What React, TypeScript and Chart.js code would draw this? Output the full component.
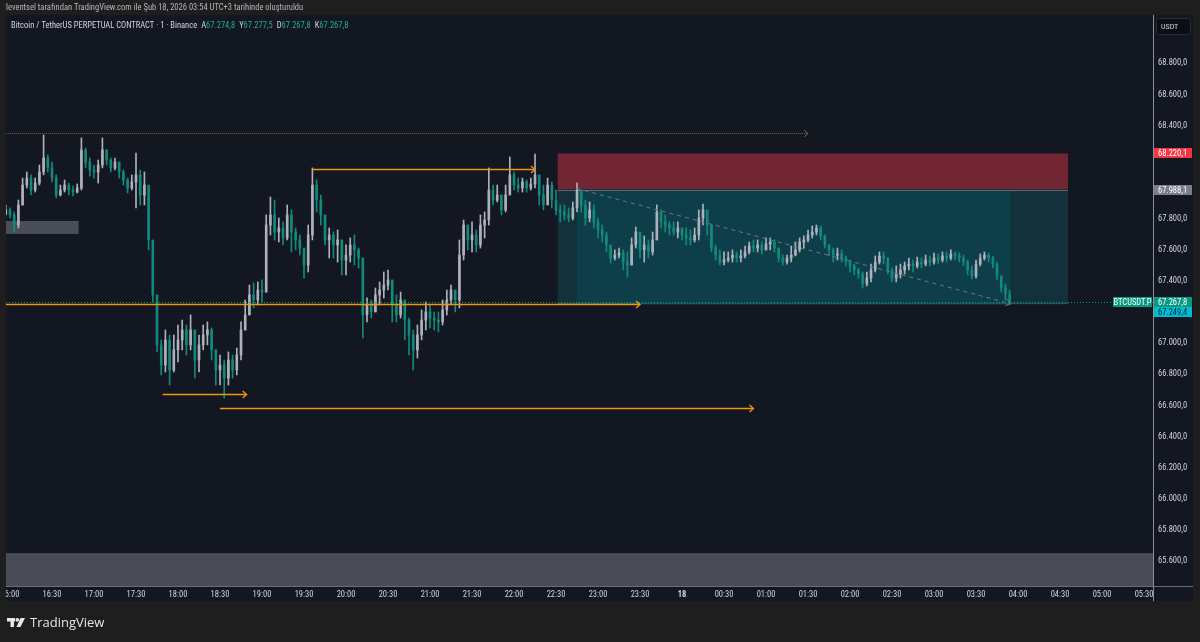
import React, { useEffect, useRef } from 'react';
import { Chart, registerables } from 'chart.js';

Chart.register(...registerables);

// ---------------- data ----------------
const HEADER_TEXT = 'leventsel tarafından TradingView.com ile Şub 18, 2026 03:54 UTC+3 tarihinde oluşturuldu';
const SYMBOL_TITLE = 'Bitcoin / TetherUS PERPETUAL CONTRACT · 1 · Binance';
const ohlcLetters = ['A', 'Y', 'D', 'K'];
const ohlcValues = ['67.274,8', '67.277,5', '67.267,8', '67.267,8'];
const CURRENCY = 'USDT';
const SYMBOL_TAG = 'BTCUSDT.P';

// candles: minutes after 16:00, 3-minute buckets
const firstCandleMinute = -3;
const candleMinutes = 3;
const firstOpen = 67830;

const closes = [
  67857, 67825, 67760, 67889, 68017, 68062, 67985, 68030, 68101, 68191,
  68127, 68062, 67953, 67985, 68017, 67985, 67972, 67998, 68243, 68165,
  68114, 68101, 68146, 68243, 68178, 68127, 68165, 68101, 68050, 67998,
  68037, 68082, 67953, 68017, 67664, 67310, 66989, 66860, 67021, 66828,
  66957, 67021, 67085, 66989, 67085, 66892, 66989, 67053, 67085, 66957,
  66828, 66860, 66776, 66892, 66828, 66924, 67085, 67182, 67310, 67278,
  67342, 67329, 67760, 67825, 67715, 67741, 67677, 67825, 67715, 67664,
  67612, 67503, 67696, 68017, 67921, 67825, 67664, 67696, 67632, 67664,
  67535, 67567, 67632, 67600, 67548, 67182, 67246, 67201, 67310, 67342,
  67374, 67407, 67246, 67182, 67278, 67149, 67053, 66957, 67053, 67149,
  67201, 67162, 67149, 67137, 67214, 67278, 67342, 67278, 67567, 67760,
  67664, 67696, 67632, 67760, 67792, 67985, 67921, 67953, 67857, 67953,
  68082, 68017, 67998, 68037, 67998, 68024, 68082, 67953, 67889, 68017,
  67921, 67857, 67844, 67825, 67805, 67870, 67985, 67889, 67805, 67857,
  67780, 67728, 67696, 67632, 67548, 67567, 67580, 67522, 67503, 67632,
  67715, 67600, 67632, 67587, 67664, 67844, 67780, 67760, 67741, 67715,
  67741, 67696, 67677, 67664, 67696, 67805, 67857, 67760, 67612, 67567,
  67522, 67535, 67548, 67567, 67548, 67561, 67587, 67625, 67612, 67632,
  67600, 67638, 67651, 67612, 67548, 67522, 67548, 67567, 67600, 67651,
  67664, 67696, 67715, 67741, 67690, 67632, 67600, 67567, 67574, 67548,
  67522, 67497, 67471, 67445, 67381, 67419, 67471, 67522, 67561, 67548,
  67471, 67419, 67445, 67471, 67497, 67509, 67497, 67522, 67509, 67535,
  67522, 67548, 67535, 67561, 67548, 67574, 67561, 67548, 67522, 67471,
  67432, 67509, 67548, 67567, 67548, 67509, 67432, 67355, 67317, 67267.8,
];

const highs = [
  67889, 67870, 67844, 67921, 68062, 68101, 68082, 68062, 68146, 68339,
  68210, 68165, 68082, 68017, 68050, 68030, 68011, 68024, 68320, 68255,
  68191, 68146, 68178, 68320, 68243, 68191, 68191, 68165, 68114, 68062,
  68082, 68223, 68114, 68101, 67953, 67632, 67278, 67021, 67085, 67053,
  67053, 67117, 67149, 67117, 67182, 67085, 67053, 67117, 67137, 67098,
  66957, 66924, 66892, 66944, 66924, 66969, 67137, 67278, 67374, 67387,
  67394, 67407, 67825, 67940, 67921, 67805, 67780, 67889, 67857, 67741,
  67696, 67600, 67760, 68127, 68050, 67953, 67760, 67741, 67715, 67728,
  67664, 67632, 67677, 67696, 67612, 67503, 67291, 67278, 67355, 67394,
  67458, 67471, 67374, 67310, 67329, 67278, 67162, 67085, 67117, 67214,
  67265, 67246, 67201, 67201, 67278, 67342, 67374, 67342, 67664, 67792,
  67760, 67780, 67728, 67825, 67844, 68127, 68017, 68017, 67953, 68017,
  68197, 68101, 68062, 68062, 68050, 68062, 68217, 68050, 68017, 68062,
  68037, 67985, 67889, 67889, 67870, 67908, 68030, 67972, 67921, 67908,
  67889, 67805, 67760, 67715, 67612, 67600, 67612, 67600, 67587, 67677,
  67747, 67677, 67690, 67664, 67715, 67889, 67857, 67825, 67780, 67780,
  67780, 67741, 67741, 67728, 67741, 67857, 67895, 67844, 67760, 67632,
  67600, 67587, 67587, 67600, 67587, 67600, 67625, 67651, 67664, 67664,
  67651, 67677, 67677, 67664, 67612, 67567, 67567, 67625, 67651, 67677,
  67690, 67728, 67754, 67760, 67754, 67696, 67632, 67612, 67612, 67600,
  67561, 67535, 67509, 67484, 67458, 67458, 67509, 67561, 67587, 67587,
  67548, 67484, 67497, 67509, 67522, 67548, 67535, 67554, 67548, 67567,
  67561, 67580, 67574, 67587, 67587, 67600, 67587, 67580, 67567, 67535,
  67497, 67535, 67574, 67587, 67580, 67561, 67522, 67432, 67381, 67342,
];

const lows = [
  67825, 67805, 67715, 67741, 67889, 67998, 67953, 67972, 68017, 68082,
  68101, 68037, 67934, 67947, 67972, 67953, 67947, 67966, 67985, 68127,
  68075, 68062, 68030, 68127, 68146, 68101, 68114, 68062, 68017, 67966,
  67985, 67870, 67889, 67889, 67600, 67265, 66944, 66796, 66815, 66731,
  66815, 66879, 66957, 66924, 66957, 66776, 66815, 66957, 66989, 66892,
  66731, 66731, 66648, 66731, 66776, 66796, 66892, 67085, 67182, 67227,
  67246, 67265, 67329, 67696, 67664, 67651, 67632, 67664, 67587, 67600,
  67567, 67419, 67458, 67664, 67844, 67760, 67632, 67548, 67548, 67522,
  67439, 67439, 67522, 67503, 67484, 67034, 67137, 67162, 67201, 67246,
  67291, 67342, 67137, 67137, 67162, 67021, 66924, 66828, 66905, 67021,
  67085, 67098, 67085, 67072, 67117, 67182, 67246, 67201, 67227, 67535,
  67600, 67587, 67587, 67612, 67677, 67760, 67889, 67908, 67825, 67844,
  67985, 67985, 67972, 67972, 67972, 67985, 67998, 67889, 67857, 67934,
  67870, 67825, 67780, 67792, 67780, 67792, 67844, 67844, 67760, 67780,
  67741, 67677, 67651, 67587, 67516, 67535, 67548, 67471, 67426, 67503,
  67612, 67548, 67522, 67548, 67567, 67664, 67741, 67715, 67696, 67696,
  67677, 67664, 67632, 67632, 67651, 67664, 67760, 67696, 67587, 67535,
  67503, 67503, 67522, 67522, 67522, 67522, 67548, 67574, 67587, 67587,
  67574, 67600, 67600, 67587, 67522, 67503, 67509, 67522, 67561, 67587,
  67612, 67651, 67677, 67696, 67664, 67612, 67561, 67522, 67535, 67522,
  67497, 67458, 67439, 67419, 67355, 67368, 67394, 67458, 67509, 67509,
  67445, 67394, 67394, 67419, 67445, 67471, 67458, 67484, 67484, 67497,
  67497, 67509, 67509, 67522, 67522, 67535, 67535, 67522, 67497, 67439,
  67413, 67419, 67497, 67535, 67522, 67484, 67407, 67329, 67278, 67246,
];

// axis ranges (minutes after 16:00 / price)
const timeRange = [-2.857, 816.4];
const priceRange = [65438.6, 69110.6];

const timeTickValues = [0, 30, 60, 90, 120, 150, 180, 210, 240, 270, 300, 330, 360, 390, 420, 450, 480, 510, 540, 570, 600, 630, 660, 690, 720, 750, 780, 810];
const timeTickLabels = ['16:00', '16:30', '17:00', '17:30', '18:00', '18:30', '19:00', '19:30', '20:00', '20:30', '21:00', '21:30', '22:00', '22:30', '23:00', '23:30', '18', '00:30', '01:00', '01:30', '02:00', '02:30', '03:00', '03:30', '04:00', '04:30', '05:00', '05:30'];
const dayTickValue = 480;

const priceTickValues = [65600, 65800, 66000, 66200, 66400, 66600, 66800, 67000, 67400, 67600, 67800, 68400, 68600, 68800];
const priceTickLabels = ['65.600,0', '65.800,0', '66.000,0', '66.200,0', '66.400,0', '66.600,0', '66.800,0', '67.000,0', '67.400,0', '67.600,0', '67.800,0', '68.400,0', '68.600,0', '68.800,0'];

const tagPrices = [68220.1, 67988.1, 67267.8, 67249.4];
const tagTexts = ['68.220,1', '67.988,1', '67.267,8', '67.249,4'];
const tagKinds = ['stop', 'entry', 'last', 'target'];

// drawings (times in minutes after 16:00)
const levelFrom = [-3, 216, -3, 109, 150];
const levelTo = [570, 375, 450, 169, 531];
const levelPrice = [68351, 68120, 67249.4, 66673, 66583];
const levelKind = ['dotted', 'solid', 'solid', 'solid', 'solid'];

const boxFrom = [-3, -3];
const boxTo = [49, 830];
const boxTop = [67786, 65650];
const boxBottom = [67703, 65300];

const positionSpan = [391.2, 755.7];
const positionActive = [404.8, 714.3];
const stopPrice = 68220.1;
const entryPrice = 67988.1;
const targetPrice = 67249.4;
const lastPrice = 67267.8;

const trendTimes = [404.8, 714.3];
const trendPrices = [67995, 67255];

// ---------------- styles ----------------
const PAGE_BG = '#1e1e1e';
const CHART_BG = '#131722';
const UP = '#aeb1ba';
const DOWN = '#11897b';
const ORANGE = '#f0950e';
const AXIS_TEXT = '#d1d4dc';
const NARROW = '"Liberation Sans Narrow", "Roboto Condensed", "Liberation Sans", Arial, sans-serif';
const TAG_STYLE: Record<string, { bg: string; fg: string }> = {
  stop: { bg: '#f23645', fg: '#ffffff' },
  entry: { bg: '#7b7e88', fg: '#ffffff' },
  last: { bg: '#089981', fg: '#ffffff' },
  target: { bg: '#00bcd4', fg: '#0b2a30' },
};

function chevron(ctx: CanvasRenderingContext2D, x: number, y: number, angle: number, size: number) {
  ctx.save();
  ctx.translate(x, y);
  ctx.rotate(angle);
  ctx.beginPath();
  ctx.moveTo(-size, -size * 0.85);
  ctx.lineTo(0, 0);
  ctx.lineTo(-size, size * 0.85);
  ctx.stroke();
  ctx.restore();
}

const tvPlugin = {
  id: 'tvPlugin',
  beforeDraw(chart: any) {
    const ctx = chart.ctx as CanvasRenderingContext2D;
    ctx.save();
    ctx.fillStyle = PAGE_BG;
    ctx.fillRect(0, 0, chart.width, chart.height);
    const ca = chart.chartArea;
    const ys = chart.scales.y;
    const xs = chart.scales.x;
    ctx.fillStyle = CHART_BG;
    ctx.fillRect(ca.left, ca.top, ys.right - ca.left, xs.bottom - ca.top);
    ctx.restore();
  },
  beforeDatasetsDraw(chart: any) {
    const ctx = chart.ctx as CanvasRenderingContext2D;
    const ca = chart.chartArea;
    const X = (t: number) => chart.scales.x.getPixelForValue(t);
    const Y = (p: number) => chart.scales.y.getPixelForValue(p);
    ctx.save();
    ctx.beginPath();
    ctx.rect(ca.left, ca.top, ca.right - ca.left, ca.bottom - ca.top);
    ctx.clip();
    // grey zones
    const boxColors = ['rgba(84,88,98,0.85)', '#4a4c55'];
    for (let i = 0; i < boxFrom.length; i++) {
      ctx.fillStyle = boxColors[i];
      const x1 = X(boxFrom[i]), x2 = X(boxTo[i]);
      const y1 = Y(boxTop[i]), y2 = Y(boxBottom[i]);
      ctx.fillRect(x1, y1, x2 - x1, y2 - y1);
    }
    // short position tool
    const px1 = X(positionSpan[0]), px2 = X(positionSpan[1]);
    const ax1 = X(positionActive[0]), ax2 = X(positionActive[1]);
    const yStop = Y(stopPrice), yEntry = Y(entryPrice), yTarget = Y(targetPrice);
    ctx.fillStyle = '#722532';
    ctx.fillRect(px1, yStop, px2 - px1, yEntry - yStop);
    ctx.fillStyle = '#12313b';
    ctx.fillRect(px1, yEntry, px2 - px1, yTarget - yEntry);
    ctx.fillStyle = '#0f3e4b';
    ctx.fillRect(ax1, yEntry, ax2 - ax1, yTarget - yEntry);
    ctx.strokeStyle = '#5b6b74';
    ctx.lineWidth = 1;
    ctx.beginPath();
    ctx.moveTo(px1, Math.round(yEntry) + 0.5);
    ctx.lineTo(px2, Math.round(yEntry) + 0.5);
    ctx.stroke();
    ctx.strokeStyle = '#1b5a63';
    ctx.beginPath();
    ctx.moveTo(px1, Math.round(yTarget) - 0.5);
    ctx.lineTo(px2, Math.round(yTarget) - 0.5);
    ctx.stroke();
    ctx.restore();
  },
  afterDatasetsDraw(chart: any) {
    const ctx = chart.ctx as CanvasRenderingContext2D;
    const ca = chart.chartArea;
    const X = (t: number) => chart.scales.x.getPixelForValue(t);
    const Y = (p: number) => chart.scales.y.getPixelForValue(p);
    ctx.save();
    ctx.beginPath();
    ctx.rect(ca.left, ca.top, ca.right - ca.left, ca.bottom - ca.top);
    ctx.clip();
    // last price dotted line
    ctx.strokeStyle = '#089981';
    ctx.lineWidth = 1;
    ctx.setLineDash([1, 2]);
    const yl = Math.round(Y(lastPrice)) + 0.5;
    ctx.beginPath();
    ctx.moveTo(ca.left, yl);
    ctx.lineTo(ca.right, yl);
    ctx.stroke();
    // horizontal levels
    for (let i = 0; i < levelFrom.length; i++) {
      const x1 = X(levelFrom[i]), x2 = X(levelTo[i]);
      const y = Math.round(Y(levelPrice[i])) + 0.5;
      const dotted = levelKind[i] === 'dotted';
      ctx.strokeStyle = dotted ? '#7e6132' : ORANGE;
      ctx.lineWidth = dotted ? 1 : 1.3;
      ctx.setLineDash(dotted ? [1, 1] : []);
      ctx.beginPath();
      ctx.moveTo(x1, y);
      ctx.lineTo(x2, y);
      ctx.stroke();
      ctx.setLineDash([]);
      chevron(ctx, x2, y, 0, 4);
    }
    // diagonal trend (dashed)
    const tx1 = X(trendTimes[0]), tx2 = X(trendTimes[1]);
    const ty1 = Y(trendPrices[0]), ty2 = Y(trendPrices[1]);
    ctx.strokeStyle = '#6d757f';
    ctx.lineWidth = 1;
    ctx.setLineDash([4, 4]);
    ctx.beginPath();
    ctx.moveTo(tx1, ty1);
    ctx.lineTo(tx2, ty2);
    ctx.stroke();
    ctx.setLineDash([]);
    chevron(ctx, tx2, ty2, Math.atan2(ty2 - ty1, tx2 - tx1), 4);
    ctx.restore();
  },
  afterDraw(chart: any) {
    const ctx = chart.ctx as CanvasRenderingContext2D;
    const ca = chart.chartArea;
    const xs = chart.scales.x;
    const ys = chart.scales.y;
    const Y = (p: number) => ys.getPixelForValue(p);
    ctx.save();
    // clip tick overflow at left edge and bottom-right corner
    ctx.fillStyle = PAGE_BG;
    ctx.fillRect(0, ca.top, ca.left, xs.bottom - ca.top);
    ctx.fillStyle = CHART_BG;
    ctx.fillRect(ca.right + 1, ca.bottom, ys.right - ca.right - 1, xs.bottom - ca.bottom);
    // axis separators
    ctx.strokeStyle = '#8c8f98';
    ctx.lineWidth = 1;
    ctx.beginPath();
    ctx.moveTo(ca.right + 0.5, ca.top);
    ctx.lineTo(ca.right + 0.5, xs.bottom);
    ctx.stroke();
    ctx.strokeStyle = '#6a6d76';
    ctx.beginPath();
    ctx.moveTo(ca.left, ca.bottom + 0.5);
    ctx.lineTo(ys.right, ca.bottom + 0.5);
    ctx.stroke();

    // price tags
    ctx.font = '8.5px ' + NARROW;
    ctx.textBaseline = 'middle';
    let prevY = -100;
    for (let i = 0; i < tagPrices.length; i++) {
      let y = Y(tagPrices[i]);
      if (y - prevY < 10) y = prevY + 10;
      prevY = y;
      const st = TAG_STYLE[tagKinds[i]];
      ctx.fillStyle = st.bg;
      ctx.fillRect(ca.right + 1, Math.round(y - 5), 38, 10);
      ctx.fillStyle = st.fg;
      ctx.textAlign = 'left';
      ctx.fillText(tagTexts[i], ca.right + 5, Math.round(y) + 0.5);
      if (tagKinds[i] === 'last') {
        ctx.fillStyle = st.bg;
        ctx.fillRect(ca.right - 40, Math.round(y - 5), 39, 10);
        ctx.fillStyle = st.fg;
        ctx.textAlign = 'center';
        ctx.fillText(SYMBOL_TAG, ca.right - 20.5, Math.round(y) + 0.5);
      }
    }

    // currency box
    ctx.fillStyle = '#0c0e13';
    ctx.strokeStyle = '#2a2e39';
    ctx.beginPath();
    ctx.roundRect(ca.right + 3.5, 18.5, 34, 16, 3);
    ctx.fill();
    ctx.stroke();
    ctx.fillStyle = '#d1d4dc';
    ctx.textAlign = 'left';
    ctx.font = '8px ' + NARROW;
    ctx.fillText(CURRENCY, ca.right + 8, 27);

    // header
    ctx.fillStyle = '#b2b5be';
    ctx.font = '8.5px ' + NARROW;
    ctx.textAlign = 'left';
    ctx.fillText(HEADER_TEXT, 6, 8);

    // legend
    ctx.font = '8.5px ' + NARROW;
    let lx = 11;
    const ly = 25.5;
    ctx.fillStyle = '#d1d4dc';
    ctx.fillText(SYMBOL_TITLE, lx, ly);
    lx += ctx.measureText(SYMBOL_TITLE).width + 4;
    for (let i = 0; i < ohlcLetters.length; i++) {
      ctx.fillStyle = '#d1d4dc';
      ctx.fillText(ohlcLetters[i], lx, ly);
      lx += ctx.measureText(ohlcLetters[i]).width;
      ctx.fillStyle = '#22ab94';
      ctx.fillText(ohlcValues[i], lx, ly);
      lx += ctx.measureText(ohlcValues[i]).width + 4;
    }

    // footer logo
    ctx.fillStyle = '#e6e6e6';
    ctx.fillRect(7, 618, 8, 3.5);
    ctx.fillRect(10.5, 618, 3.5, 9);
    ctx.beginPath();
    ctx.arc(17.3, 619.8, 1.9, 0, Math.PI * 2);
    ctx.fill();
    ctx.beginPath();
    ctx.moveTo(20.5, 618);
    ctx.lineTo(25, 618);
    ctx.lineTo(20.5, 627);
    ctx.lineTo(16.5, 627);
    ctx.closePath();
    ctx.fill();
    ctx.font = '13px "Open Sans", "Liberation Sans", sans-serif';
    ctx.textBaseline = 'middle';
    ctx.fillText('TradingView', 30, 623);
    ctx.restore();
  },
};

export default function App() {
  const ref = useRef<HTMLCanvasElement | null>(null);
  useEffect(() => {
    if (!ref.current) return;
    const times = closes.map((_, i) => firstCandleMinute + i * candleMinutes);
    const opens = closes.map((_, i) => (i === 0 ? firstOpen : closes[i - 1]));
    const colors = closes.map((c, i) => (c >= opens[i] ? UP : DOWN));
    const chart = new Chart(ref.current, {
      type: 'bar',
      data: {
        datasets: [
          {
            label: 'bodies',
            data: times.map((t, i) => ({ x: t, y: [opens[i], closes[i]] })) as any,
            backgroundColor: colors,
            barThickness: 2,
            minBarLength: 1,
            grouped: false,
            order: 0,
          } as any,
          {
            label: 'wicks',
            data: times.map((t, i) => ({ x: t, y: [lows[i], highs[i]] })) as any,
            backgroundColor: colors,
            barThickness: 1,
            grouped: false,
            order: 1,
          } as any,
        ],
      },
      options: {
        responsive: false,
        animation: false,
        devicePixelRatio: 1,
        events: [],
        layout: { padding: { left: 6, top: 15, right: 7, bottom: 41 } },
        plugins: { legend: { display: false }, tooltip: { enabled: false } },
        scales: {
          x: {
            type: 'linear',
            min: timeRange[0],
            max: timeRange[1],
            offset: false,
            grid: { display: false, drawTicks: false },
            border: { display: false },
            afterBuildTicks: (s: any) => {
              s.ticks = timeTickValues.map((v) => ({ value: v }));
            },
            afterFit: (s: any) => {
              s.height = 15;
              s.paddingLeft = 0;
              s.paddingRight = 0;
            },
            ticks: {
              autoSkip: false,
              maxRotation: 0,
              padding: 4,
              color: AXIS_TEXT,
              font: (c: any) => ({
                family: NARROW,
                size: 8.5,
                weight: c.tick && c.tick.value === dayTickValue ? 'bold' : 'normal',
              }),
              callback: (_v: any, i: number) => timeTickLabels[i],
            },
          },
          y: {
            type: 'linear',
            position: 'right',
            min: priceRange[0],
            max: priceRange[1],
            grid: { display: false, drawTicks: false },
            border: { display: false },
            afterBuildTicks: (s: any) => {
              s.ticks = priceTickValues.map((v) => ({ value: v }));
            },
            afterFit: (s: any) => {
              s.width = 40;
              s.paddingTop = 0;
              s.paddingBottom = 0;
            },
            ticks: {
              padding: 5,
              color: AXIS_TEXT,
              font: { family: NARROW, size: 8.5 },
              callback: (_v: any, i: number) => priceTickLabels[i],
            },
          },
        },
      } as any,
      plugins: [tvPlugin],
    });
    return () => chart.destroy();
  }, []);
  return (
    <div style={{ position: 'fixed', left: 0, top: 0, width: 1200, height: 642, background: PAGE_BG }}>
      <canvas ref={ref} width={1200} height={642} style={{ display: 'block', width: 1200, height: 642 }} />
    </div>
  );
}
